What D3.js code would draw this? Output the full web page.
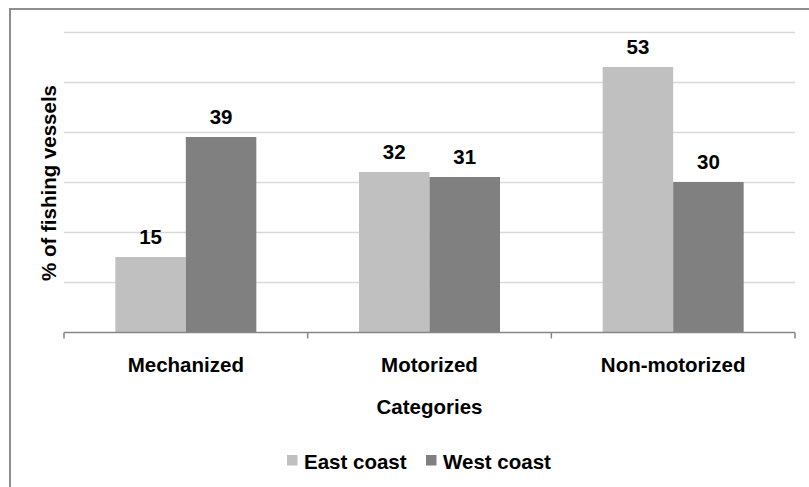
<!DOCTYPE html>
<html>
<head>
<meta charset="utf-8">
<script src="https://cdn.jsdelivr.net/npm/d3@7"></script>
<style>
  html, body { margin: 0; padding: 0; background: #ffffff; }
  svg { display: block; }
  text { font-family: Arial, "Liberation Sans", sans-serif; font-weight: bold; fill: #000; }
</style>
</head>
<body>
<svg id="chart" width="809" height="487"></svg>
<script>
const categories = ["Mechanized", "Motorized", "Non-motorized"];
const seriesNames = ["East coast", "West coast"];
const eastCoast = [15, 32, 53];
const westCoast = [39, 31, 30];
const yTicks = [0, 10, 20, 30, 40, 50, 60];
const colors = ["#c0c0c0", "#808080"];

const seriesValues = [eastCoast, westCoast];
const svg = d3.select("#chart");
const FS = "20.5px";

// outer frame
svg.append("rect")
  .attr("x", 10).attr("y", 9)
  .attr("width", 830).attr("height", 500)
  .attr("fill", "none").attr("stroke", "#8e8e8e").attr("stroke-width", 2);

const pLeft = 64, pRight = 795, pTop = 32, pBottom = 332;

const x = d3.scaleBand().domain(categories).range([pLeft, pRight]).paddingInner(0).paddingOuter(0);
const xs = d3.scaleBand().domain(seriesNames).range([0, x.bandwidth()]).paddingInner(0).paddingOuter(0.728);
const y = d3.scaleLinear().domain([0, 60]).range([pBottom, pTop]);

// gridlines
svg.append("g").selectAll("line")
  .data(yTicks.filter(d => d > 0))
  .join("line")
  .attr("x1", pLeft).attr("x2", pRight)
  .attr("y1", d => Math.round(y(d)) + 0.5).attr("y2", d => Math.round(y(d)) + 0.5)
  .attr("stroke", "#d9d9d9").attr("stroke-width", 1.5);

// bars
const groups = svg.append("g").selectAll("g")
  .data(categories)
  .join("g")
  .attr("transform", d => `translate(${x(d)},0)`);

groups.selectAll("rect")
  .data((c, i) => seriesNames.map((s, j) => ({ s, v: seriesValues[j][i], j })))
  .join("rect")
  .attr("x", d => xs(d.s))
  .attr("width", xs.bandwidth())
  .attr("y", d => y(d.v))
  .attr("height", d => y(0) - y(d.v))
  .attr("fill", d => colors[d.j]);

groups.selectAll("text.val")
  .data((c, i) => seriesNames.map((s, j) => ({ s, v: seriesValues[j][i], j })))
  .join("text")
  .attr("class", "val")
  .attr("x", d => xs(d.s) + xs.bandwidth() / 2)
  .attr("y", d => y(d.v) - 13.5)
  .attr("text-anchor", "middle")
  .attr("font-size", FS)
  .text(d => d.v);

// x axis
const ax = svg.append("g").attr("transform", `translate(0,${pBottom + 0.5})`);
ax.append("line").attr("x1", pLeft).attr("x2", pRight).attr("y1", 0).attr("y2", 0)
  .attr("stroke", "#868686").attr("stroke-width", 1.5);
const tickXs = categories.map(c => x(c)).concat([pRight]);
ax.selectAll("line.tk").data(tickXs).join("line").attr("class", "tk")
  .attr("x1", d => d).attr("x2", d => d).attr("y1", 0).attr("y2", 6)
  .attr("stroke", "#868686").attr("stroke-width", 1.5);
ax.selectAll("text.cat").data(categories).join("text").attr("class", "cat")
  .attr("x", d => x(d) + x.bandwidth() / 2)
  .attr("y", 39.5)
  .attr("text-anchor", "middle")
  .attr("font-size", FS)
  .text(d => d);

// axis titles
svg.append("text")
  .attr("x", (pLeft + pRight) / 2).attr("y", 413.5)
  .attr("text-anchor", "middle").attr("font-size", FS)
  .text("Categories");

svg.append("text")
  .attr("transform", `translate(56,183) rotate(-90)`)
  .attr("text-anchor", "middle").attr("font-size", FS)
  .text("% of fishing vessels");

// legend
const legendItems = [
  { name: seriesNames[0], color: colors[0], sx: 287, tx: 304 },
  { name: seriesNames[1], color: colors[1], sx: 426, tx: 443 }
];
const lg = svg.append("g");
lg.selectAll("rect").data(legendItems).join("rect")
  .attr("x", d => d.sx).attr("y", 455).attr("width", 10.5).attr("height", 10.5)
  .attr("fill", d => d.color);
lg.selectAll("text").data(legendItems).join("text")
  .attr("x", d => d.tx).attr("y", 469)
  .attr("font-size", FS)
  .text(d => d.name);
</script>
</body>
</html>
